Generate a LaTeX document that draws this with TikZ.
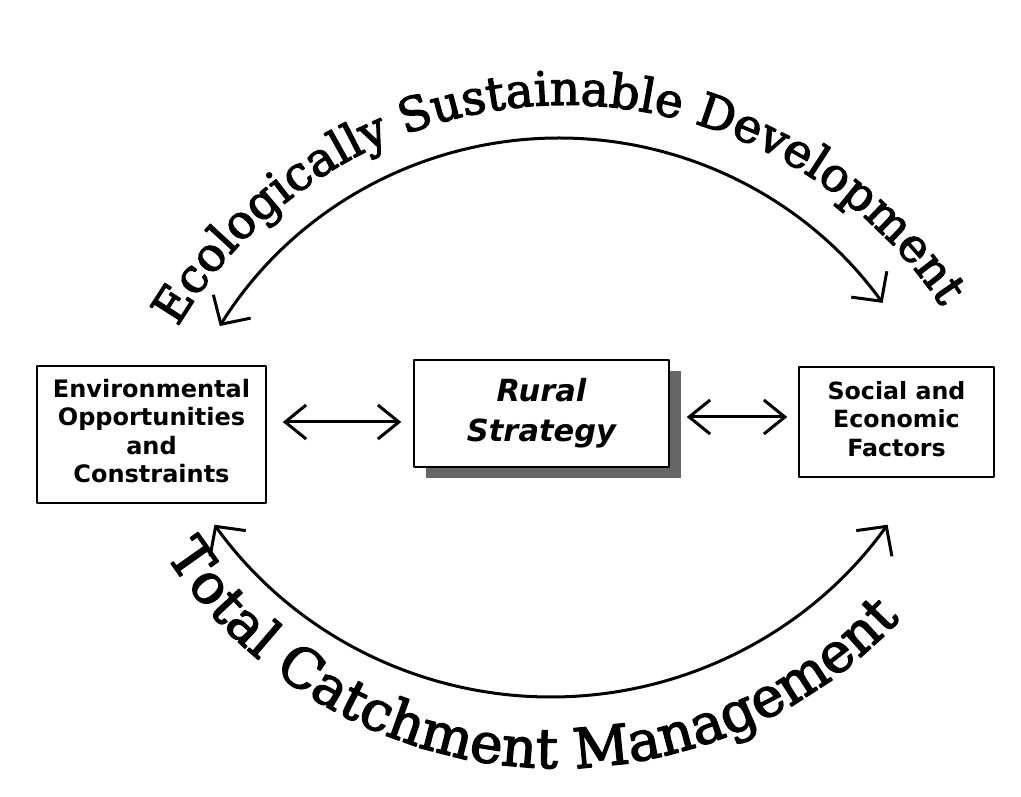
\documentclass[tikz,border=0pt]{standalone}
\usepackage{fontspec}
\newfontfamily\arcfont[FakeBold=2.5]{DejaVu Serif}
\newfontfamily\boxfont{DejaVu Sans}
\usetikzlibrary{arrows.meta, decorations.text, shadows}

\begin{document}
\begin{tikzpicture}[x=1pt, y=1pt, line join=round,
    box/.style={draw, line width=1.5pt, fill=white, align=center, inner sep=0pt},
    arcarrow/.style={{Straight Barb[length=21pt,width=44pt]}-{Straight Barb[length=21pt,width=44pt]}, line width=3pt},
    flatarrow/.style={{Straight Barb[length=21pt,width=34pt]}-{Straight Barb[length=21pt,width=34pt]}, line width=3pt}]

    % Parameters
    \def\rTopArc{400}
    \def\rBotArc{415}
    \def\rTopText{450}
    \def\rBotText{468}

    \useasboundingbox (0,0) rectangle (1021,796);

    % Centres of the arcs
    \coordinate (topc)  at (559,258);
    \coordinate (botc)  at (551,514);
    \coordinate (toptc) at (566,241);
    \coordinate (bottc) at (558,496);

    % Boxes
    \node[box, minimum width=229pt, minimum height=137pt,
          font=\boxfont\bfseries\fontsize{24}{28.5}\selectfont] (env) at (151.5,361.5)
        {\raisebox{4pt}{\begin{tabular}{@{}c@{}}Environmental\\Opportunities\\and\\Constraints\end{tabular}}};
    \node[box, minimum width=255pt, minimum height=107pt,
          drop shadow={shadow xshift=12pt, shadow yshift=-11pt, opacity=1, fill=black!60},
          font=\boxfont\bfseries\itshape\fontsize{30.5}{40}\selectfont] (rural) at (541.5,382.5)
        {Rural\\Strategy};
    \node[box, minimum width=195pt, minimum height=110pt,
          font=\boxfont\bfseries\fontsize{23.7}{28.5}\selectfont] (soc) at (896.5,374)
        {\raisebox{5pt}{\begin{tabular}{@{}c@{}}Social and\\Economic\\Factors\end{tabular}}};

    % Links to the strategy
    \draw[flatarrow, shorten <=16pt, shorten >=12pt] (env.east |- 0,374) -- (rural.west |- 0,374);
    \draw[flatarrow, shorten <=17pt, shorten >=11pt] (rural.east |- 0,379) -- (soc.west |- 0,379);

    % Arc ends
    \coordinate (tl) at ([shift={(148:\rTopArc)}]topc);
    \coordinate (bl) at ([shift={(215.8:\rBotArc)}]botc);

    % Curved arrows
    \draw[arcarrow] (tl) arc[start angle=148, end angle=36, radius=\rTopArc];
    \draw[arcarrow] (bl) arc[start angle=215.8, end angle=324.2, radius=\rBotArc];

    % Curved titles
    \path[decorate, decoration={text along path, text align=center,
          text={|\arcfont\fontsize{47}{54}\selectfont|Ecologically Sustainable Development}}]
        ([shift={(170:\rTopText)}]toptc) arc[start angle=170, end angle=13, radius=\rTopText];
    \path[decorate, decoration={text along path, text align=center,
          text={|\arcfont\fontsize{55}{64}\selectfont|Total Catchment Management}}]
        ([shift={(193:\rBotText)}]bottc) arc[start angle=193, end angle=337, radius=\rBotText];

\end{tikzpicture}
\end{document}
